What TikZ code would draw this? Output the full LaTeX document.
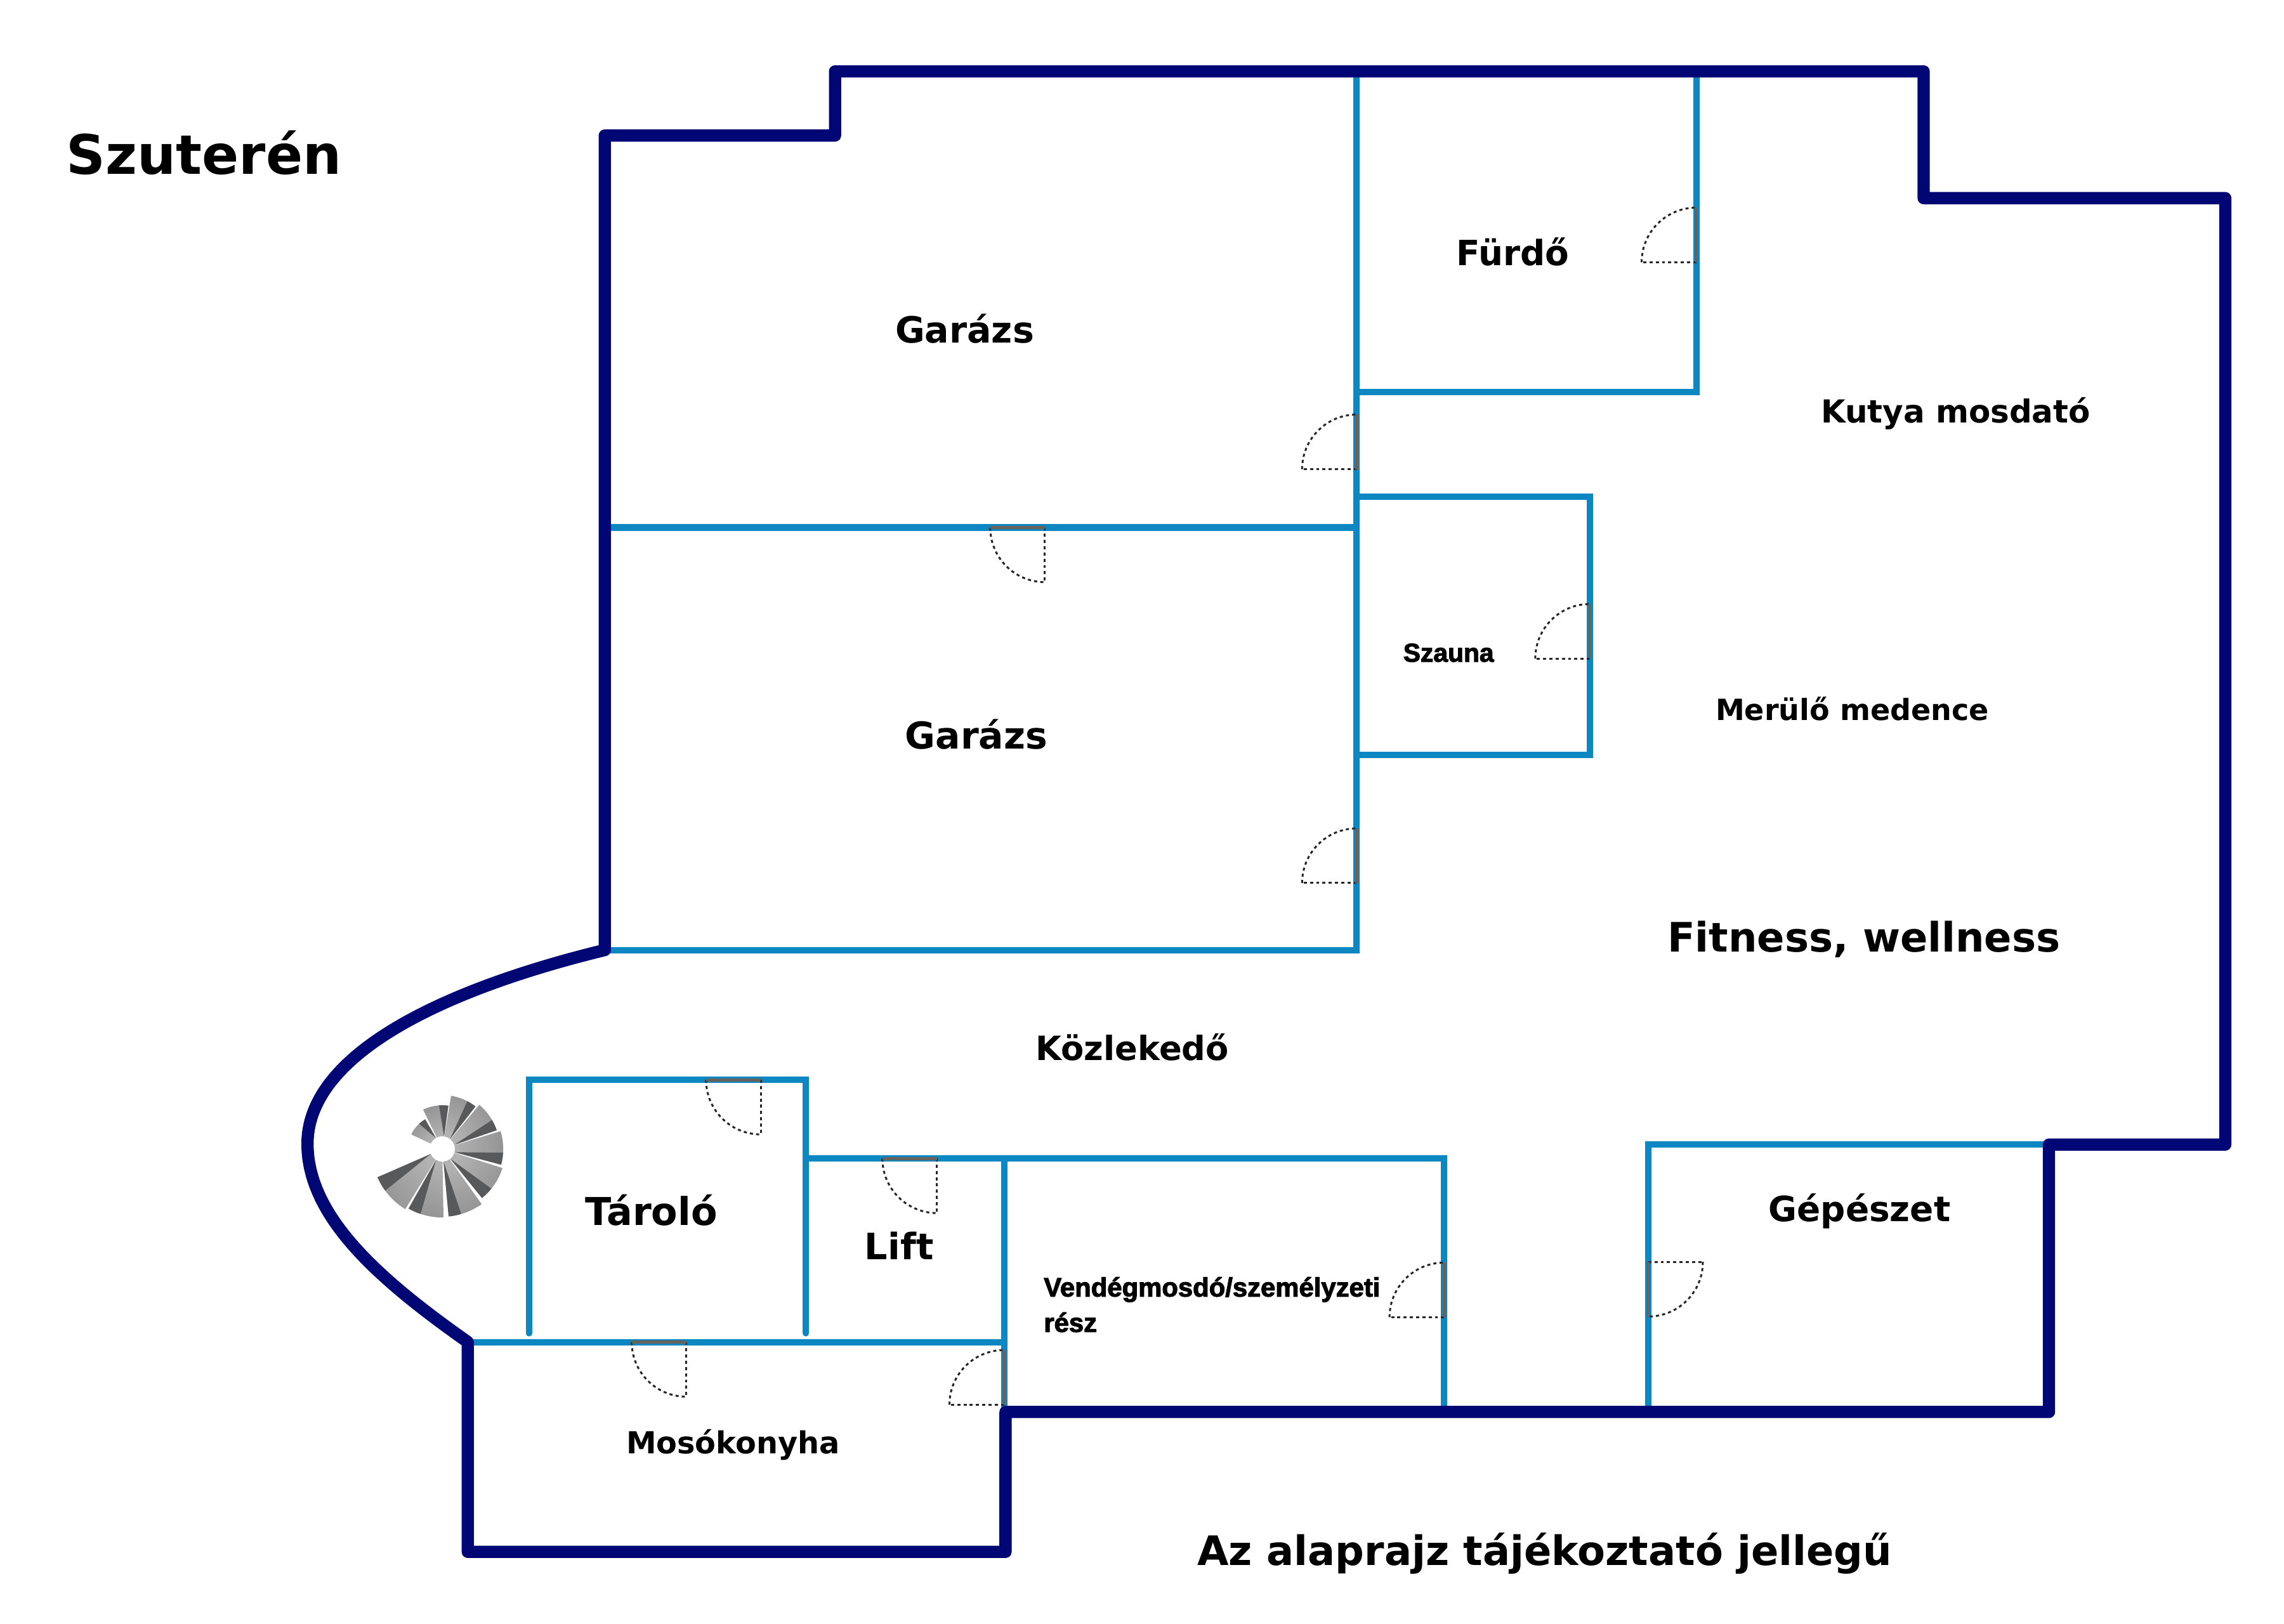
\documentclass[tikz,border=0pt]{standalone}
\usepackage{fontspec}
\setmainfont{DejaVu Sans}
\newfontfamily\heavyfont[BoldFeatures={FakeBold=2.6}]{Liberation Sans}
\definecolor{navywall}{HTML}{000674}
\definecolor{bluewall}{HTML}{0C87C2}
\definecolor{leafgray}{HTML}{66635F}
\definecolor{stairlight}{HTML}{B2B2B2}
\definecolor{stairmid}{HTML}{949494}
\definecolor{stairdark}{HTML}{58595B}
\newcommand{\lbl}[1]{\fontsize{#1}{#1}\selectfont\bfseries}
\tikzset{
  outerwall/.style={draw=navywall,line width=5.5pt,line join=round,line cap=round},
  innerwall/.style={draw=bluewall,line width=2.85pt,line cap=butt,line join=miter},
  innerend/.style={draw=bluewall,line width=2.85pt,line cap=round},
  leaf/.style={draw=leafgray,line width=1.4pt},
  swing/.style={draw=black!85,line width=0.85pt,dash pattern=on 1.4pt off 1.4pt},
  room/.style={inner sep=0pt,anchor=center,text=black},
}
\newcommand{\doorL}[2]{% hinge at the foot of the leaf, leaf upward, swing left
  \draw[swing] (#1-37.5,#2) arc[start angle=180,end angle=270,radius=37.5];
  \draw[swing] (#1,#2) -- (#1-37.5,#2);
  \draw[leaf] (#1,#2) -- (#1,#2-37.5);}
\newcommand{\doorD}[2]{% hinge at the right of the leaf, leaf leftward, swing down
  \draw[swing] (#1-37.5,#2) arc[start angle=180,end angle=90,radius=37.5];
  \draw[swing] (#1,#2) -- (#1,#2+37.5);
  \draw[leaf] (#1,#2) -- (#1-37.5,#2);}
\begin{document}
\begin{tikzpicture}[x=0.02297cm,y=-0.02297cm]
\path[use as bounding box] (0,0) rectangle (1567.3,1114.5);
\fill[white] (0,0) rectangle (1567.3,1114.5);
% inner walls
\draw[innerwall] (931,49) -- (931,652) -- (415,652);
\draw[innerwall] (415,362) -- (931,362);
\draw[innerwall] (1164,49) -- (1164,269) -- (931,269);
\draw[innerwall] (931,341) -- (1091,341) -- (1091,518) -- (931,518);
\draw[innerend] (363,915) -- (363,741) -- (553,741) -- (553,915);
\draw[innerwall] (553,795) -- (991,795) -- (991,969);
\draw[innerwall] (689,795) -- (689,969);
\draw[innerwall] (321,921) -- (689,921);
\draw[innerwall] (1131,969) -- (1131,785.5) -- (1406,785.5);
% doors
\doorL{931}{322}
\doorL{931}{606}
\doorL{1164}{180}
\doorL{1091}{452}
\doorL{689}{964}
\doorL{991}{904}
\doorD{717}{362}
\doorD{522}{741}
\doorD{643}{795}
\doorD{471}{921}
% door that opens into the plant room
\draw[swing] (1168.5,866) arc[start angle=0,end angle=90,radius=37.5];
\draw[swing] (1131,866) -- (1168.5,866);
\draw[leaf] (1131,866) -- (1131,904);
% spiral stair
\begin{scope}[shift={(303.5,788.5)},y=0.02297cm]
\foreach \aa/\ab/\rr in {155/120/23.5, 116/82/30, 80.6/52/37, 50/19/39.5, 17/-15/41.8, -17.6/-51/43.3, -54.5/-84.6/46.5, -89/-119.5/47, -121.6/-156.4/48.5}{
  \pgfmathsetmacro{\as}{\ab+0.36*(\aa-\ab)}
  \pgfmathsetmacro{\sa}{(\aa+\ab)/2+90}
  \shade[top color=stairlight,bottom color=stairmid,shading angle=\sa] (\aa:8.7) -- (\aa:\rr) arc[start angle=\aa,end angle=\ab,radius=\rr] -- (\ab:8.7) arc[start angle=\ab,end angle=\aa,radius=8.7] -- cycle;
  \fill[stairdark] (\ab:8.7) -- (\ab:\rr) arc[start angle=\ab,end angle=\as,radius=\rr] -- cycle;
}
\end{scope}
% outer wall
\draw[outerwall] (415,652) -- (415,93) -- (573,93) -- (573,49) -- (1320,49) -- (1320,136) -- (1527,136) -- (1527,785.5) -- (1406,785.5) -- (1406,969) -- (690,969) -- (690,1065) -- (321,1065) -- (321,921)
  .. controls (260,878) and (211,835) .. (211,785) .. controls (211,725) and (300,680) .. (415,652);
% labels
\node[room] (title) at (140,105) {\lbl{24.4}Szuterén};
\node[room] (garage1) at (662,225.5) {\lbl{16.2}Garázs};
\node[room] (garage2) at (670,504) {\lbl{16.6}Garázs};
\node[room] (bath) at (1038,173) {\lbl{15.6}Fürdő};
\node[room] (dog) at (1342,284) {\lbl{14.2}Kutya mosdató};
\node[room] (sauna) at (994,448) {\heavyfont\lbl{11.6}Szauna};
\node[room] (pool) at (1271,486.5) {\lbl{13.1}Merülő medence};
\node[room] (fitness) at (1279,644.5) {\lbl{18.2}Fitness, wellness};
\node[room] (corridor) at (777,718.5) {\lbl{15}Közlekedő};
\node[room] (plant) at (1276,831) {\lbl{15.6}Gépészet};
\node[room] (storage) at (447,830.5) {\lbl{17.2}Tároló};
\node[room] (lift) at (617,855) {\lbl{16.3}Lift};
\node[room,anchor=west] (guest1) at (716,885) {\heavyfont\lbl{11.9}Vendégmosdó/személyzeti};
\node[room,anchor=west] (guest2) at (716,907.5) {\heavyfont\lbl{11.9}rész};
\node[room] (laundry) at (503,991.5) {\lbl{13.6}Mosókonyha};
\node[room] (note) at (1060,1066) {\lbl{18.2}Az alaprajz tájékoztató jellegű};
\end{tikzpicture}
\end{document}
